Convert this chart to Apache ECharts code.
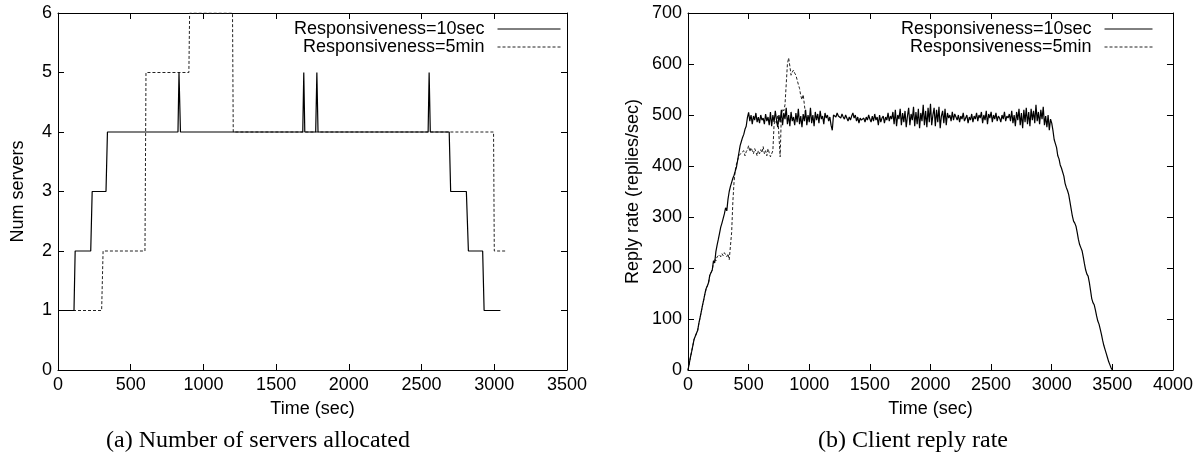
<!DOCTYPE html>
<html>
<head>
<meta charset="utf-8">
<script src="https://cdn.jsdelivr.net/npm/echarts@6/dist/echarts.min.js"></script>
<style>
  html, body { margin: 0; padding: 0; background: #fff; }
  #chart { width: 1196px; height: 465px; }
</style>
</head>
<body>
<div id="chart"></div>
<script>
// (a) number of servers allocated: [time, servers]
const servers10sec = [
  [0, 1], [110, 1], [118, 2], [225, 2], [235, 3], [330, 3], [340, 4],
  [825, 4], [832, 5], [842, 4], [1683, 4], [1690, 5], [1697, 4],
  [1772, 4], [1780, 5], [1788, 4], [2545, 4], [2552, 5], [2560, 4],
  [2690, 4], [2700, 3], [2808, 3], [2822, 2], [2920, 2], [2930, 1], [3042, 1]
]
const servers5min = [
  [0, 1], [300, 1], [310, 2], [598, 2], [605, 5], [900, 5], [905, 6],
  [1200, 6], [1205, 4], [2995, 4], [3000, 2], [3088, 2]
]

// (b) client reply rate, one sample every 10 sec from t=0
const replyStep = 10
const reply10sec = [
  0, 12, 25, 36, 48, 60, 66, 68, 78, 92, 103, 115, 127, 138, 150, 160, 165, 172, 186, 188,
  196, 214, 210, 232, 245, 256, 268, 280, 288, 286, 306, 318, 312, 335, 350, 360, 368, 376, 382, 380,
  398, 412, 426, 440, 448, 456, 462, 472, 478, 495,
  505, 488, 500, 482, 498, 490, 504, 486, 496, 484, 500, 490, 494, 482, 502, 488, 496, 480, 506, 478,
  500, 486, 508, 490, 476, 500, 486, 510, 480, 504, 492, 514, 482, 500, 478, 506, 488, 496, 480, 504,
  486, 512, 482, 498, 476, 502, 488, 510, 480, 500,
  486, 514, 484, 500, 478, 506, 490, 502, 484, 508, 492, 498, 482, 504, 494, 500, 488, 496, 480, 470,
  500, 502, 496, 504, 498, 500, 494, 502, 496, 492, 500, 494, 488, 496, 490, 498, 504, 494, 500, 488,
  496, 484, 494, 490, 488, 494, 486, 496, 490, 500,
  492, 486, 498, 488, 502, 490, 496, 480, 500, 486, 494, 498, 484, 496, 490, 504, 488, 498, 492, 506,
  482, 510, 478, 500, 492, 512, 480, 504, 486, 508, 476, 498, 514, 480, 502, 490, 516, 478, 506, 482,
  512, 474, 504, 488, 520, 480, 508, 476, 514, 486,
  522, 480, 500, 514, 478, 510, 486, 516, 474, 498, 508, 484, 512, 480, 504, 494, 500, 488, 506, 490,
  502, 496, 490, 500, 486, 498, 492, 504, 488, 494, 500, 484, 496, 490, 502, 486, 498, 492, 504, 488,
  500, 494, 506, 484, 500, 490, 508, 482, 502, 494,
  506, 486, 500, 492, 504, 488, 498, 494, 486, 500, 492, 506, 488, 498, 494, 502, 488, 508, 484, 500,
  478, 506, 490, 512, 480, 504, 474, 510, 486, 514, 482, 506, 478, 512, 490, 508, 484, 520, 488, 506,
  482, 510, 492, 516, 480, 498, 476, 500, 470, 492,
  484, 470, 452, 444, 436, 420, 414, 402, 396, 394, 380, 366, 358, 352, 344, 330, 316, 302, 292, 288,
  282, 270, 256, 246, 240, 234, 222, 208, 196, 188, 184, 172, 156, 140, 132, 128, 118, 106, 96, 90,
  80, 70, 58, 48, 40, 32, 24, 16, 10, 4, 0
]
const reply5min = [
  0, 12, 25, 36, 48, 60, 66, 68, 78, 92, 103, 115, 127, 138, 150, 160, 165, 172, 186, 188,
  196, 210, 218, 214, 222, 220, 226, 222, 228, 224, 230, 226, 222, 228, 216, 214, 270, 330, 370, 392,
  404, 412, 420, 418, 426, 424, 430, 420, 428, 432, 440, 428, 436, 430, 424, 434, 428, 420, 430, 424,
  432, 426, 438, 424, 430, 420, 434, 426, 418, 416, 430, 482, 488, 484, 500, 460, 418, 500, 512, 508,
  520, 560, 600, 612, 596, 578, 584, 588, 582, 578, 576, 560, 552, 538, 530, 540, 520, 500, 490, 496
]

const serverTicks = { min: 0, max: 6, interval: 1 }
const replyYTicks = { min: 0, max: 700, interval: 100 }
const leftXTicks = { min: 0, max: 3500, interval: 500 }
const rightXTicks = { min: 0, max: 4000, interval: 500 }

const toPairs = (vals) => vals.map((v, i) => [i * replyStep, v])

const font = 'Liberation Sans, Arial, sans-serif'
const serif = 'Liberation Serif, Times New Roman, serif'
const axisBase = (show) => ({
  axisLine: { show: true, onZero: false, lineStyle: { color: '#000', width: 1 } },
  axisTick: { show: true, inside: true, length: 6, lineStyle: { color: '#000' } },
  axisLabel: { show: show, color: '#000', fontSize: 18, fontFamily: font, margin: 6,
    formatter: (v) => String(v) },
  splitLine: { show: false },
  nameTextStyle: { color: '#000', fontSize: 18, fontFamily: font },
})

const legendBase = {
  top: 20, orient: 'vertical', align: 'right', padding: 0,
  itemHeight: 12, itemGap: 0,
  itemStyle: { opacity: 0 },
  lineStyle: { width: 1 },
  textStyle: { color: '#000', fontSize: 18, fontFamily: font, lineHeight: 17, padding: [0, 8, 0, 0] },
  data: ['Responsiveness=10sec', 'Responsiveness=5min'],
}

const chart = echarts.init(document.getElementById('chart'))

const option = {
  animation: false,
  backgroundColor: '#fff',
  grid: [
    { left: 58, top: 13, width: 509, height: 357 },
    { left: 688, top: 13, width: 487, height: 357 },
  ],
  xAxis: [
    { type: 'value', gridIndex: 0, position: 'bottom', ...leftXTicks, ...axisBase(true),
      name: 'Time (sec)', nameLocation: 'middle', nameGap: 30 },
    { type: 'value', gridIndex: 0, position: 'top', ...leftXTicks, ...axisBase(false) },
    { type: 'value', gridIndex: 1, position: 'bottom', ...rightXTicks, ...axisBase(true),
      name: 'Time (sec)', nameLocation: 'middle', nameGap: 30 },
    { type: 'value', gridIndex: 1, position: 'top', ...rightXTicks, ...axisBase(false) },
  ],
  yAxis: [
    { type: 'value', gridIndex: 0, position: 'left', ...serverTicks, ...axisBase(true),
      name: 'Num servers', nameLocation: 'middle', nameRotate: 90, nameGap: 31 },
    { type: 'value', gridIndex: 0, position: 'right', ...serverTicks, ...axisBase(false) },
    { type: 'value', gridIndex: 1, position: 'left', ...replyYTicks, ...axisBase(true),
      name: 'Reply rate (replies/sec)', nameLocation: 'middle', nameRotate: 90, nameGap: 46 },
    { type: 'value', gridIndex: 1, position: 'right', ...replyYTicks, ...axisBase(false) },
  ],
  legend: [
    { ...legendBase, right: 1196 - 561, itemWidth: 63 },
    { ...legendBase, right: 1196 - 1153, itemWidth: 48 },
  ],
  series: [
    {
      name: 'Responsiveness=5min', type: 'line', xAxisIndex: 0, yAxisIndex: 0,
      data: servers5min, symbol: 'none', itemStyle: { color: '#222' },
      lineStyle: { color: '#222', width: 1, type: [3, 2] },
    },
    {
      name: 'Responsiveness=10sec', type: 'line', xAxisIndex: 0, yAxisIndex: 0,
      data: servers10sec, symbol: 'none', itemStyle: { color: '#000' },
      lineStyle: { color: '#000', width: 1.2 },
    },
    {
      name: 'Responsiveness=5min', type: 'line', xAxisIndex: 2, yAxisIndex: 2,
      data: toPairs(reply5min), symbol: 'none', itemStyle: { color: '#222' },
      lineStyle: { color: '#222', width: 1, type: [3, 2] },
    },
    {
      name: 'Responsiveness=10sec', type: 'line', xAxisIndex: 2, yAxisIndex: 2,
      data: toPairs(reply10sec), symbol: 'none', itemStyle: { color: '#000' },
      lineStyle: { color: '#000', width: 1.2 },
    },
  ],
  graphic: [
    { type: 'text', x: 258, y: 429,
      style: { text: '(a) Number of servers allocated', fill: '#000', fontSize: 24, fontFamily: serif, textAlign: 'center' } },
    { type: 'text', x: 913, y: 429,
      style: { text: '(b) Client reply rate', fill: '#000', fontSize: 24, fontFamily: serif, textAlign: 'center' } },
  ],
}

chart.setOption(option)
</script>
</body>
</html>
